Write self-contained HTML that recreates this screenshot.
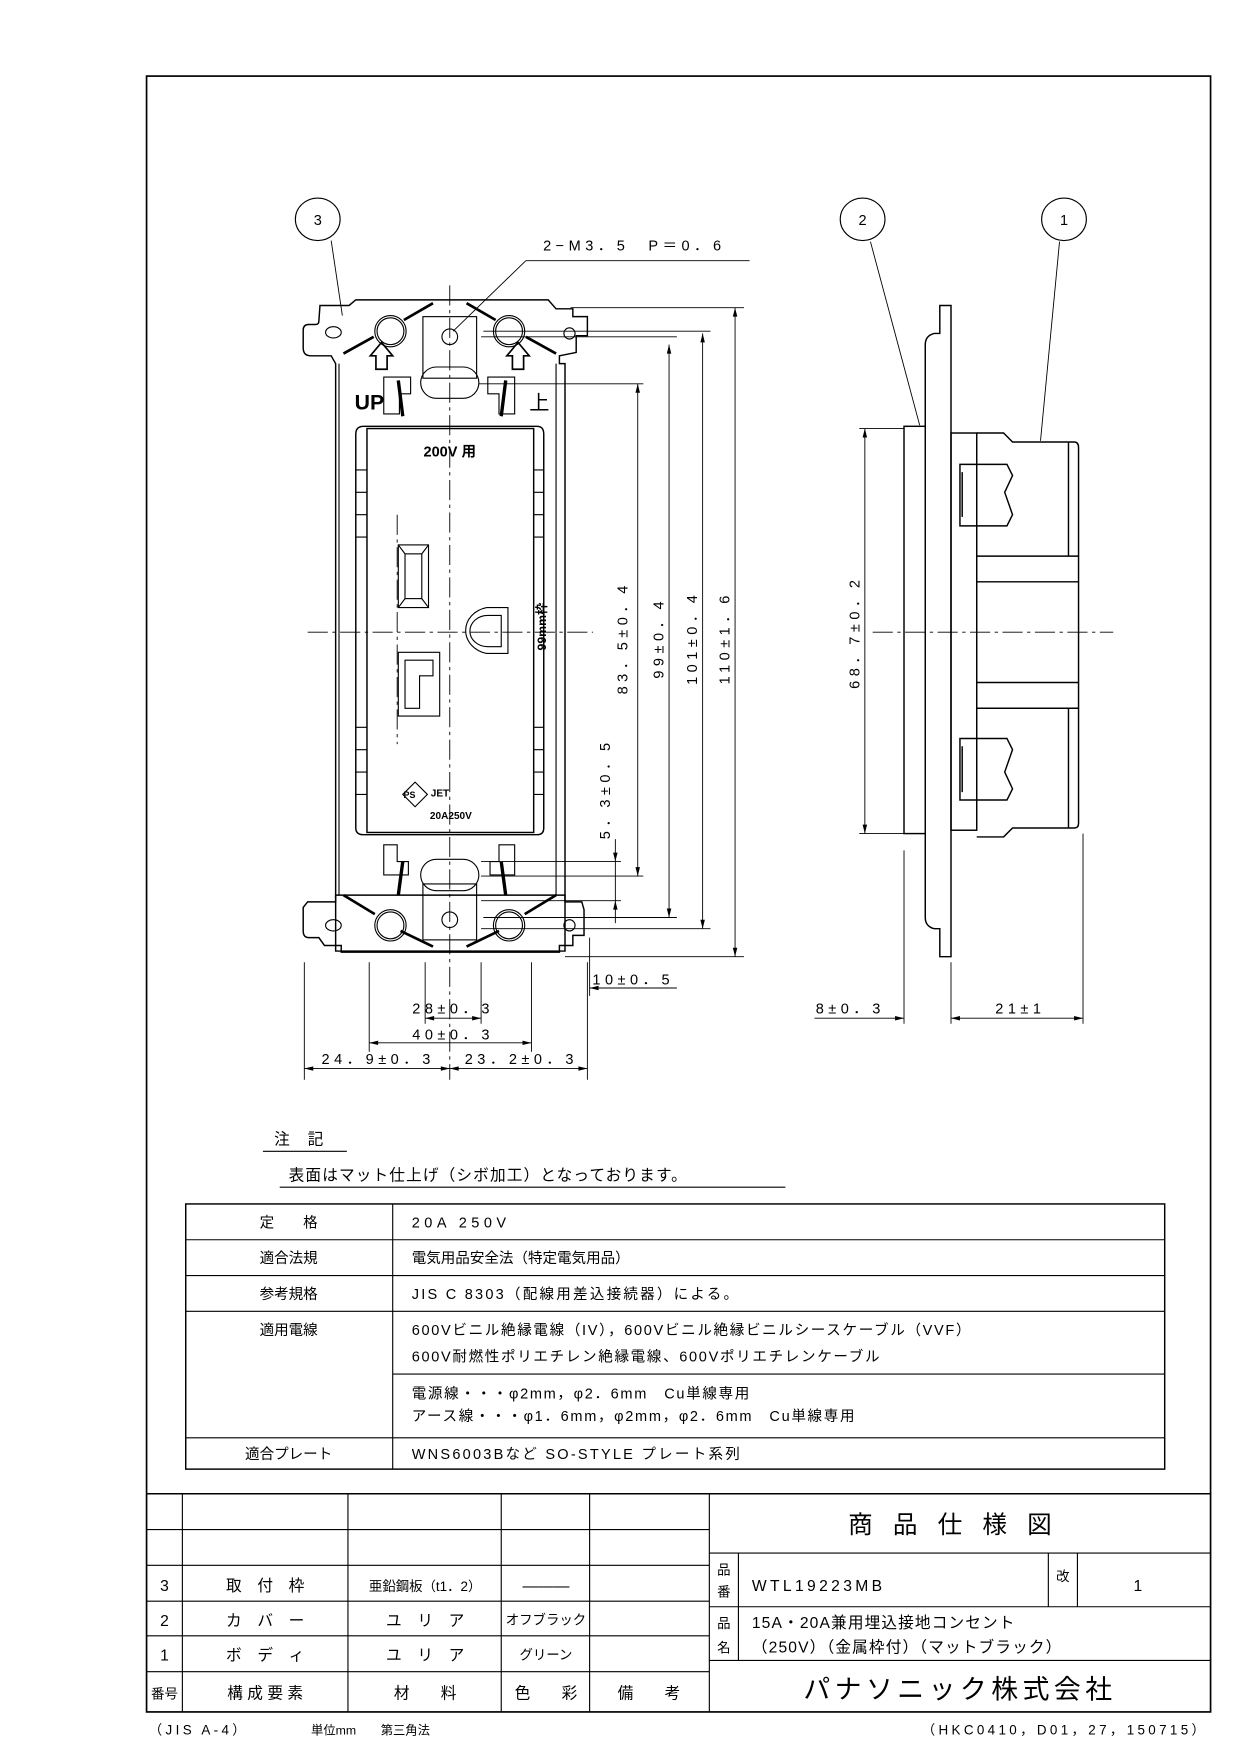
<!DOCTYPE html>
<html><head><meta charset="utf-8"><style>
html,body{margin:0;padding:0;background:#fff;}
svg{display:block;}
text{font-family:"Liberation Sans","Noto Sans CJK JP",sans-serif;fill:#000;}
.d{font-size:13px;letter-spacing:4px;}
.t{font-size:14px;letter-spacing:1px;}
</style></head><body>
<svg width="1241" height="1754" viewBox="0 0 1109.2 1567.6" preserveAspectRatio="none" xmlns="http://www.w3.org/2000/svg">
<g fill="none" stroke="#000" stroke-width="1">
<rect x="131" y="68" width="951" height="1462" stroke-width="1.5"/>

<path d="M286,273 L312,273 L318,268 L490,268 L497,276 L512,276 L512,283 L525,283 L525,300 L515,300 L515,315 L500,318 L500,325 L505,325 L505,850 L300,850 L300,325 L296,318 L278,318 Q271,318 271,311 L271,295 Q271,290 276,290 L282,290 Q285,290 285,287 Z" stroke-width="1.3"/>
<path d="M275,806 L300,806 L300,800 L505,800 L505,806 L520,806 L522,813 L522,836 L512,836 L512,845 L500,845 L500,851 L305,851 L305,845 L290,845 L285,838 L276,838 Q271,838 271,832 L271,811 Z" stroke-width="1.3"/>
<ellipse cx="298" cy="297" rx="7" ry="5"/>
<ellipse cx="298" cy="827" rx="7" ry="5"/>
<circle cx="509" cy="298" r="5"/>
<circle cx="509" cy="827" r="5"/>
<line x1="303" y1="325" x2="303" y2="800"/>
<line x1="497" y1="325" x2="497" y2="800"/>
<path d="M387,271 L361,286 M417,271 L443,286 M334,301 L307,316 M470,301 L497,316" stroke-width="2.4"/>
<path d="M307,800 L335,817 M497,800 L469,817 M358,832 L387,846 M446,832 L417,846" stroke-width="2.4"/>
<circle cx="349" cy="296" r="14"/><circle cx="349" cy="296" r="12"/>
<circle cx="455" cy="296" r="14"/><circle cx="455" cy="296" r="12"/>
<circle cx="349" cy="827" r="14"/><circle cx="349" cy="827" r="12"/>
<circle cx="455" cy="827" r="14"/><circle cx="455" cy="827" r="12"/>
<circle cx="402" cy="301" r="7"/>
<circle cx="402" cy="822" r="7"/>
<rect x="378" y="283" width="48" height="55"/>
<rect x="378" y="790" width="48" height="50"/>
<rect x="376" y="328" width="52" height="28" rx="14"/>
<rect x="376" y="768" width="52" height="28" rx="14"/>
<path d="M356,340 L360,372 M452,340 L448,372 M360,770 L356,800 M448,770 L452,800" stroke-width="3"/>
<path d="M331,318 L341,306 L351,318 L346,318 L346,330 L336,330 L336,318 Z" stroke-width="1.5"/>
<path d="M453,318 L463,306 L473,318 L468,318 L468,330 L458,330 L458,318 Z" stroke-width="1.5"/>
<path d="M343,337 L367,337 L367,352 L357,352 L357,370 L343,370 Z"/>
<path d="M436,337 L460,337 L460,370 L446,370 L446,352 L436,352 Z"/>
<path d="M343,755 L355,755 L355,770 L365,770 L365,782 L343,782 Z"/>
<path d="M446,755 L460,755 L460,782 L438,782 L438,770 L446,770 Z"/>
<path d="M325,381 L480,381 Q486,381 486,388 L486,740 Q486,746 480,746 L325,746 Q318,746 318,740 L318,388 Q318,381 325,381 Z" stroke-width="1.3"/>
<rect x="328" y="383" width="149" height="361" stroke-width="1.3"/>
<path d="M318,420 h10 M318,440 h10 M318,460 h10 M318,480 h10 M477,420 h9 M477,440 h9 M477,460 h9 M477,480 h9 M318,650 h10 M318,670 h10 M318,690 h10 M318,710 h10 M477,650 h9 M477,670 h9 M477,690 h9 M477,710 h9"/>
<rect x="356" y="487" width="27" height="56"/><rect x="362" y="495" width="15" height="40"/>
<path d="M356,487 L362,495 M383,487 L377,495 M356,543 L362,535 M383,543 L377,535"/>
<path d="M356,583 L393,583 L393,640 L356,640 Z M362,590 L387,590 L387,604 L375,604 L375,633 L362,633 Z"/>
<path d="M454,543 L454,584 L435,584 A24,21 0 0 1 435,543 Z M448,550 L448,578 L436,578 A16,14 0 0 1 436,550 Z"/>
<path d="M360,710 L371,699 L382,710 L371,721 Z"/>
</g>
<text x="402" y="408" font-size="13" font-weight="bold" text-anchor="middle">200V 用</text>
<text x="484" y="560" font-size="11" font-weight="bold" transform="rotate(-90 484 560)" text-anchor="middle" dy="4">99mm枠</text>
<text x="317" y="366" font-size="19" font-weight="bold">UP</text>
<text x="473" y="366" font-size="18">上</text>
<text x="366" y="713" font-size="8" font-weight="bold" text-anchor="middle">PS</text>
<text x="385" y="712" font-size="9" font-weight="bold">JET</text>
<text x="403" y="732" font-size="9" font-weight="bold" text-anchor="middle">20A250V</text>

<g stroke="#000" stroke-width="0.8" stroke-dasharray="18,4,3,4" fill="none">
<line x1="275" y1="565" x2="530" y2="565"/>
<line x1="402" y1="255" x2="402" y2="965"/>
<line x1="355" y1="460" x2="355" y2="665"/>
<line x1="780" y1="565" x2="995" y2="565"/>
</g>

<g stroke="#000" stroke-width="0.8" fill="none">
<path d="M430,301 L605,301 M432,296 L635,296 M510,275 L665,275 M428,343 L575,343 M430,783 L575,783 M430,770 L555,770 M430,805 L555,805 M432,820 L605,820 M430,830 L635,830 M505,855 L665,855"/>
<path d="M570,343 V783 M598,308 V820 M628,298 V830 M657,275 V855 M550,770 V805 M550,805 V825 M550,750 V770"/>
<path d="M527,838 V890 M527,883 L605,883 M380,860 V915 M430,860 V915 M380,910 H430 M330,860 V940 M475,860 V940 M330,932 H475 M272,860 V965 M525,860 V965 M272,955 H525"/>
<path d="M470,233 L670,233 M470,233 L405,296"/>
<path d="M296,215 L306,282 M778,216 L822,380 M947,216 L930,394"/>
</g>
<g fill="#000">
<path d="M570,343 l-2,8 h4z M570,783 l-2,-8 h4z M598,308 l-2,8 h4z M598,820 l-2,-8 h4z M628,298 l-2,8 h4z M628,830 l-2,-8 h4z M657,275 l-2,8 h4z M657,855 l-2,-8 h4z M550,770 l-2,-8 h4z M550,805 l-2,8 h4z"/>
<path d="M527,883 l8,-2 v4z M380,910 l8,-2 v4z M430,910 l-8,-2 v4z M330,932 l8,-2 v4z M475,932 l-8,-2 v4z M272,955 l8,-2 v4z M525,955 l-8,-2 v4z M402,955 l-8,-2 v4z M402,955 l8,-2 v4z"/>
</g>
<text class="d" x="567" y="224" text-anchor="middle">2−M3．5　P＝0．6</text>
<text class="d" x="561" y="570" text-anchor="middle" transform="rotate(-90 561 570)">83．5±0．4</text>
<text class="d" x="593" y="570" text-anchor="middle" transform="rotate(-90 593 570)">99±0．4</text>
<text class="d" x="623" y="570" text-anchor="middle" transform="rotate(-90 623 570)">101±0．4</text>
<text class="d" x="652" y="570" text-anchor="middle" transform="rotate(-90 652 570)">110±1．6</text>
<text class="d" x="545" y="705" text-anchor="middle" transform="rotate(-90 545 705)">5．3±0．5</text>
<text class="d" x="768" y="565" text-anchor="middle" transform="rotate(-90 768 565)">68．7±0．2</text>
<text class="d" x="566" y="880" text-anchor="middle">10±0．5</text>
<text class="d" x="405" y="906" text-anchor="middle">28±0．3</text>
<text class="d" x="405" y="929" text-anchor="middle">40±0．3</text>
<text class="d" x="338" y="951" text-anchor="middle">24．9±0．3</text>
<text class="d" x="466" y="951" text-anchor="middle">23．2±0．3</text>
<text class="d" x="760" y="906" text-anchor="middle">8±0．3</text>
<text class="d" x="912" y="906" text-anchor="middle">21±1</text>

<g fill="none" stroke="#000" stroke-width="1">
<ellipse cx="284" cy="196" rx="20" ry="19"/>
<ellipse cx="771" cy="196" rx="20" ry="19"/>
<ellipse cx="951" cy="196" rx="20" ry="19"/>
</g>
<text x="284" y="201" font-size="13" text-anchor="middle">3</text>
<text x="771" y="201" font-size="13" text-anchor="middle">2</text>
<text x="951" y="201" font-size="13" text-anchor="middle">1</text>

<g fill="none" stroke="#000" stroke-width="1.3">
<rect x="808" y="381" width="19" height="364"/>
<path d="M827,381 L827,308 Q827,300 835,298 L840,298 L840,273 L850,273 L850,855 L840,855 L840,830 L835,830 Q827,828 827,820 L827,745"/>
<rect x="850" y="387" width="23" height="355"/>
<path d="M873,387 L897,387 L905,395 L960,395 Q964,395 964,400 L964,736 Q964,740 960,740 L905,740 L897,748 L873,748"/>
<path d="M873,497 L964,497 M873,520 L964,520 M873,610 L964,610 M873,633 L964,633 M955,395 V497 M955,633 V740"/>
<path d="M858,415 L900,415 L905,425 L898,440 L905,460 L900,470 L858,470 Z M858,660 L900,660 L905,670 L898,690 L905,705 L900,715 L858,715 Z"/>
<path d="M860,422 V462 M860,667 V708"/>
</g>
<g stroke="#000" stroke-width="0.8" fill="none">
<path d="M768,383 L808,383 M768,745 L808,745 M773,383 V745 M808,760 V915 M850,860 V915 M968,745 V915 M728,910 H808 M850,910 H968"/>
</g>
<g fill="#000"><path d="M773,383 l-2,8 h4z M773,745 l-2,-8 h4z M808,910 l-8,-2 v4z M850,910 l8,-2 v4z M968,910 l-8,-2 v4z"/></g>

<text class="t" x="245" y="1023">注　記</text>
<line x1="235" y1="1029" x2="310" y2="1029" stroke="#000"/>
<text class="t" x="258" y="1055">表面はマット仕上げ（シボ加工）となっております。</text>
<line x1="250" y1="1061" x2="702" y2="1061" stroke="#000"/>

<g fill="none" stroke="#000" stroke-width="1">
<rect x="166" y="1076" width="875" height="237" stroke-width="1.3"/>
<path d="M351,1076 V1313 M166,1108 H1041 M166,1140 H1041 M166,1172 H1041 M351,1228 H1041 M166,1285 H1041"/>
</g>
<g font-size="13">
<text x="258" y="1097" text-anchor="middle">定　　格</text>
<text x="258" y="1129" text-anchor="middle">適合法規</text>
<text x="258" y="1161" text-anchor="middle">参考規格</text>
<text x="258" y="1193" text-anchor="middle">適用電線</text>
<text x="258" y="1304" text-anchor="middle">適合プレート</text>
<text x="368" y="1097" letter-spacing="4">20A 250V</text>
<text x="368" y="1129">電気用品安全法（特定電気用品）</text>
<text x="368" y="1161" letter-spacing="2">JIS C 8303（配線用差込接続器）による。</text>
<text x="368" y="1193" letter-spacing="1.5">600Vビニル絶縁電線（IV），600Vビニル絶縁ビニルシースケーブル（VVF）</text>
<text x="368" y="1217" letter-spacing="1.5">600V耐燃性ポリエチレン絶縁電線、600Vポリエチレンケーブル</text>
<text x="368" y="1250" letter-spacing="1.5">電源線・・・φ2mm，φ2．6mm　Cu単線専用</text>
<text x="368" y="1270" letter-spacing="1.5">アース線・・・φ1．6mm，φ2mm，φ2．6mm　Cu単線専用</text>
<text x="368" y="1304" letter-spacing="2">WNS6003Bなど SO-STYLE プレート系列</text>
</g>

<g fill="none" stroke="#000" stroke-width="1">
<path d="M131,1335 H1082" stroke-width="1.3"/>
<path d="M163,1335 V1530 M311,1335 V1530 M448,1335 V1530 M527,1335 V1530 M634,1335 V1530"/>
<path d="M131,1367 H634 M131,1399 H634 M131,1431 H634 M131,1462 H634 M131,1494 H634"/>
<path d="M634,1388 H1082 M634,1436 H1082 M634,1484 H1082 M660,1388 V1484 M937,1388 V1436 M963,1388 V1436"/>
</g>
<g font-size="14">
<text x="147" y="1422" text-anchor="middle">3</text>
<text x="147" y="1453" text-anchor="middle">2</text>
<text x="147" y="1484" text-anchor="middle">1</text>
<text x="147" y="1518" text-anchor="middle" font-size="12">番号</text>
<text x="237" y="1422" text-anchor="middle">取　付　枠</text>
<text x="237" y="1453" text-anchor="middle">カ　バ　ー</text>
<text x="237" y="1484" text-anchor="middle">ボ　デ　ィ</text>
<text x="237" y="1518" text-anchor="middle">構 成 要 素</text>
<text x="380" y="1422" text-anchor="middle" font-size="12">亜鉛鋼板（t1．2）</text>
<text x="380" y="1453" text-anchor="middle">ユ　リ　ア</text>
<text x="380" y="1484" text-anchor="middle">ユ　リ　ア</text>
<text x="380" y="1518" text-anchor="middle">材　　料</text>
<text x="488" y="1422" text-anchor="middle">———</text>
<text x="488" y="1452" text-anchor="middle" font-size="12">オフブラック</text>
<text x="488" y="1483" text-anchor="middle" font-size="12">グリーン</text>
<text x="488" y="1518" text-anchor="middle">色　　彩</text>
<text x="580" y="1518" text-anchor="middle">備　　考</text>
<text x="858" y="1370" text-anchor="middle" font-size="22" letter-spacing="18">商品仕様図</text>
<text x="647" y="1407" text-anchor="middle" font-size="12">品</text>
<text x="647" y="1427" text-anchor="middle" font-size="12">番</text>
<text x="672" y="1422" letter-spacing="3">WTL19223MB</text>
<text x="950" y="1413" text-anchor="middle" font-size="12">改</text>
<text x="1017" y="1422" text-anchor="middle">1</text>
<text x="647" y="1455" text-anchor="middle" font-size="12">品</text>
<text x="647" y="1477" text-anchor="middle" font-size="12">名</text>
<text x="672" y="1455" letter-spacing="1">15A・20A兼用埋込接地コンセント</text>
<text x="672" y="1477" letter-spacing="1">（250V）（金属枠付）（マットブラック）</text>
<text x="858" y="1518" text-anchor="middle" font-size="24" letter-spacing="4">パナソニック株式会社</text>
</g>
<text x="133" y="1550" font-size="12" letter-spacing="3">（JIS A-4）</text>
<text x="278" y="1550" font-size="11">単位mm　　第三角法</text>
<text x="1080" y="1550" font-size="12" letter-spacing="3" text-anchor="end">（HKC0410，D01，27，150715）</text>
</svg>
</body></html>
